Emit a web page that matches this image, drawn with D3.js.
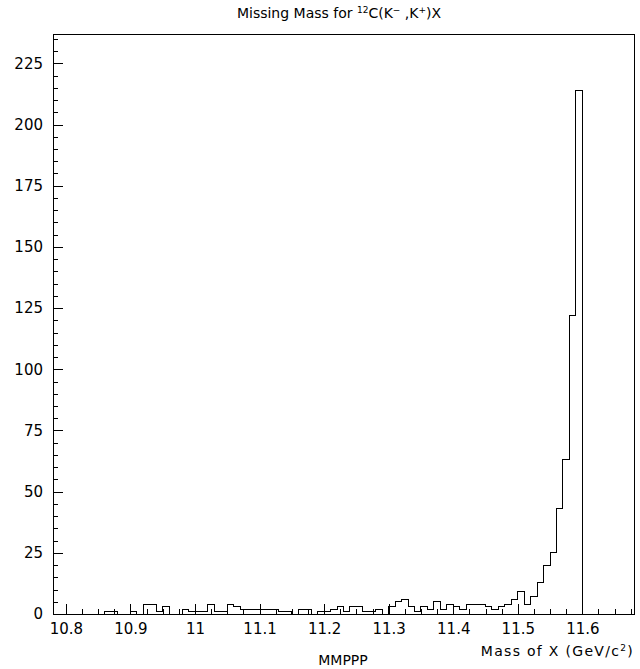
<!DOCTYPE html>
<html>
<head>
<meta charset="utf-8">
<script src="https://cdn.jsdelivr.net/npm/d3@7"></script>
<style>
  body { margin: 0; background: #fff; }
  svg text { font-family: "DejaVu Sans", "Liberation Sans", sans-serif; font-size: 14px; fill: #000; }
  svg .tick text { font-size: 15px; }
</style>
</head>
<body>
<div id="chart"></div>
<script>
// histogram MMPPP: 90 bins of 0.01 GeV from 10.78
const binLow = 10.78;
const binWidth = 0.01;
const counts = [
  0, 0, 0, 0, 0, 0, 0, 0, 1, 1,
  0, 0, 1, 0, 4, 4, 1, 3, 0, 0,
  2, 1, 1, 1, 4, 1, 1, 4, 3, 2,
  2, 2, 2, 2, 2, 1, 1, 0, 2, 2,
  0, 1, 1, 2, 3, 1, 3, 3, 1, 1,
  2, 0, 3, 5, 6, 3, 1, 3, 2, 5,
  2, 4, 3, 2, 4, 4, 4, 3, 2, 3,
  4, 6, 9, 4, 7, 13, 20, 25, 43, 63,
  122, 214, 0, 0, 0, 0, 0, 0, 0, 0
];

const xDomain = [10.78, 11.68];
const yDomain = [0, 237];

const xTicks = [10.8, 10.9, 11.0, 11.1, 11.2, 11.3, 11.4, 11.5, 11.6];
const xTickLabels = ["10.8", "10.9", "11", "11.1", "11.2", "11.3", "11.4", "11.5", "11.6"];
const xMinorStep = 0.025;

const yTicks = [0, 25, 50, 75, 100, 125, 150, 175, 200, 225];
const yTickLabels = ["0", "25", "50", "75", "100", "125", "150", "175", "200", "225"];
const yMinorStep = 5;

const width = 640, height = 669;
const margin = { top: 34, right: 6, bottom: 55, left: 53 };

const svg = d3.select("#chart").append("svg")
  .attr("width", width)
  .attr("height", height);

const x = d3.scaleLinear()
  .domain(xDomain)
  .range([margin.left, width - margin.right]);

const y = d3.scaleLinear()
  .domain(yDomain)
  .range([height - margin.bottom, margin.top]);

// minor tick positions
const xMinor = d3.range(xTicks[0], xDomain[1] + 1e-9, xMinorStep)
  .filter(v => v >= xDomain[0]);
const yMinor = d3.range(0, yDomain[1], yMinorStep);

// bottom axis (ticks point inward)
const xAxis = svg.append("g")
  .attr("transform", `translate(0,${y(0)})`);
xAxis.append("g")
  .call(d3.axisBottom(x).tickValues(xMinor).tickSize(-5).tickFormat(""));
xAxis.append("g")
  .call(d3.axisBottom(x).tickValues(xTicks).tickSize(-10).tickPadding(9)
    .tickFormat((d, i) => xTickLabels[i]));

// left axis
const yAxis = svg.append("g")
  .attr("transform", `translate(${x(xDomain[0])},0)`);
yAxis.append("g")
  .call(d3.axisLeft(y).tickValues(yMinor).tickSize(-5).tickFormat(""));
yAxis.append("g")
  .call(d3.axisLeft(y).tickValues(yTicks).tickSize(-10).tickPadding(10)
    .tickFormat((d, i) => yTickLabels[i]));

svg.selectAll(".domain").remove();
svg.selectAll(".tick line")
  .attr("stroke", "#000")
  .attr("shape-rendering", "crispEdges");
svg.selectAll(".tick text")
  .attr("font-family", null)
  .attr("font-size", null);

// frame
svg.append("rect")
  .attr("x", x(xDomain[0]))
  .attr("y", y(yDomain[1]))
  .attr("width", x(xDomain[1]) - x(xDomain[0]))
  .attr("height", y(0) - y(yDomain[1]))
  .attr("fill", "none")
  .attr("stroke", "#000")
  .attr("shape-rendering", "crispEdges");

// histogram outline
const pts = counts.map((c, i) => [binLow + i * binWidth, c]);
pts.push([binLow + counts.length * binWidth, counts[counts.length - 1]]);

const line = d3.line()
  .curve(d3.curveStepAfter)
  .x(d => x(d[0]))
  .y(d => y(d[1]));

svg.append("path")
  .datum(pts)
  .attr("d", line)
  .attr("fill", "none")
  .attr("stroke", "#000")
  .attr("stroke-width", 1)
  .attr("shape-rendering", "crispEdges");

// title
const title = svg.append("text")
  .attr("x", 339)
  .attr("y", 18)
  .attr("text-anchor", "middle");
title.append("tspan").text("Missing Mass for ");
title.append("tspan").attr("font-size", "9px").attr("dy", -5).text("12");
title.append("tspan").attr("dy", 5).text("C(K");
title.append("tspan").attr("font-size", "9px").attr("dy", -5).text("\u2212");
title.append("tspan").attr("dy", 5).text(" ,K");
title.append("tspan").attr("font-size", "9px").attr("dy", -5).text("+");
title.append("tspan").attr("dy", 5).text(")X");

// x axis title
const xt = svg.append("text")
  .attr("x", x(xDomain[1]))
  .attr("y", 656)
  .attr("text-anchor", "end")
  .attr("letter-spacing", "1.3px");
xt.append("tspan").text("Mass of X (GeV/c");
xt.append("tspan").attr("font-size", "9px").attr("dy", -5).text("2");
xt.append("tspan").attr("dy", 5).text(")");

// histogram id
svg.append("text")
  .attr("x", 343)
  .attr("y", 665)
  .attr("text-anchor", "middle")
  .text("MMPPP");
</script>
</body>
</html>
